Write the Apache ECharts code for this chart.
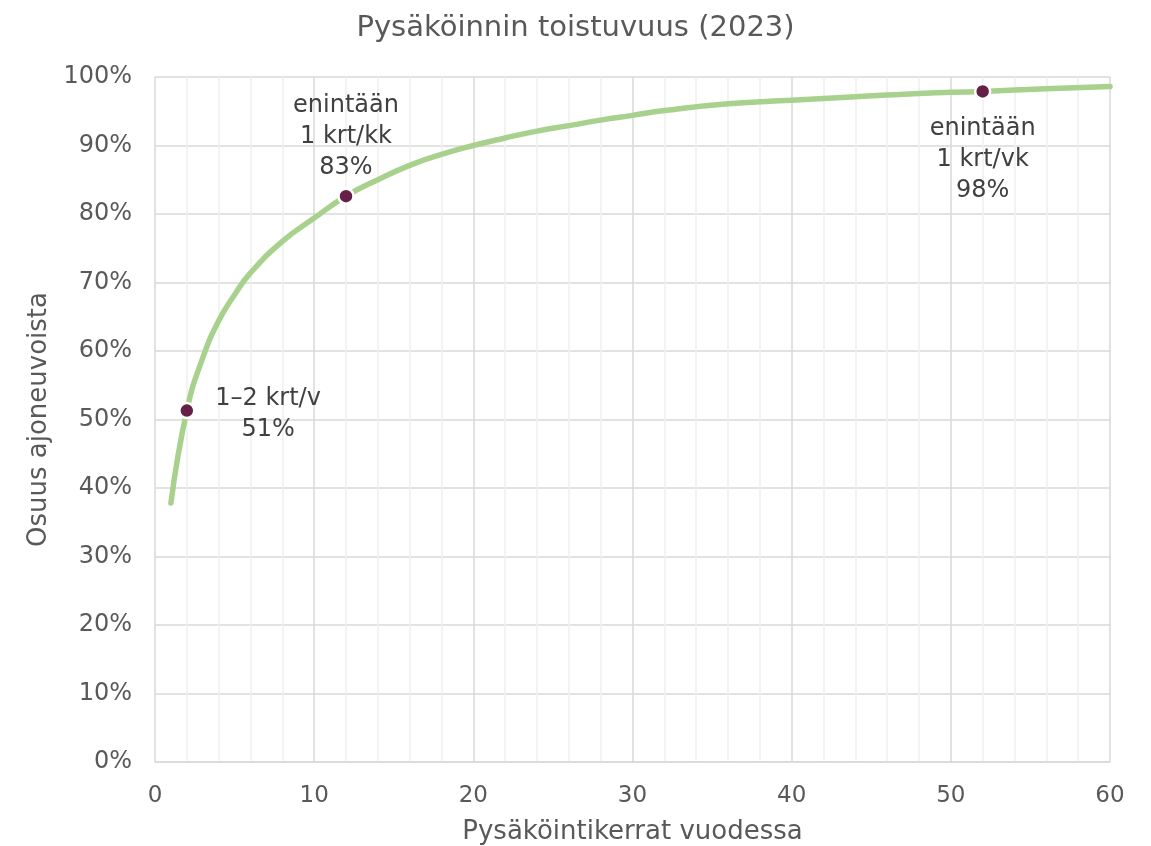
<!DOCTYPE html>
<html>
<head>
<meta charset="utf-8">
<script src="https://cdn.jsdelivr.net/npm/echarts@6/dist/echarts.min.js"></script>
<style>
  html, body { margin: 0; padding: 0; background: #fff; }
  #chart { width: 1151px; height: 846px; }
</style>
</head>
<body>
<div id="chart"></div>
<script>
// pysäköintikerrat vuodessa / osuus ajoneuvoista (%)
const xVals = [1, 2, 3, 4, 5, 6, 8, 10, 12, 14, 16, 18, 20, 22, 24, 26, 28, 30, 32, 36, 40, 44, 48, 52, 56, 60]
const shareVals = [37.8, 51.3, 59.0, 64.4, 68.2, 71.4, 76.0, 79.4, 82.6, 85.0, 87.1, 88.7, 90.0, 91.1, 92.1, 92.9, 93.7, 94.4, 95.1, 96.1, 96.6, 97.1, 97.6, 97.9, 98.3, 98.6]

// merkityt pisteet
const markX = [2, 12, 52]
const markY = [51.3, 82.6, 97.9]
const markText = ['1–2 krt/v\n51%', 'enintään\n1 krt/kk\n83%', 'enintään\n1 krt/vk\n98%']

const font = 'DejaVu Sans'
const labelPos = [
  { position: [90, 12], align: 'center', verticalAlign: 'middle' },
  { position: 'top', distance: 4 },
  { position: 'bottom', distance: 13 }
]

const lineData = xVals.map((x, i) => [x, shareVals[i]])
const markData = markX.map((x, i) => ({
  value: [x, markY[i]],
  label: Object.assign({ show: true, formatter: markText[i] }, labelPos[i])
}))

const myChart = echarts.init(document.getElementById('chart'))
const option = {
  animation: false,
  title: {
    text: 'Pysäköinnin toistuvuus (2023)',
    left: 'center',
    top: 9,
    textStyle: { color: '#595959', fontSize: 29, fontWeight: 'normal', fontFamily: font }
  },
  grid: { left: 155, right: 41, top: 77, bottom: 84, outerBoundsMode: 'none', containLabel: false },
  xAxis: {
    type: 'value',
    min: 0,
    max: 60,
    interval: 10,
    name: 'Pysäköintikerrat vuodessa',
    nameLocation: 'middle',
    nameGap: 57,
    nameTextStyle: { color: '#595959', fontSize: 26, fontFamily: font },
    axisLine: { show: true, lineStyle: { color: '#d9d9d9', width: 1.5 } },
    axisTick: { show: false },
    axisLabel: { color: '#595959', fontSize: 23, fontFamily: font, margin: 23 },
    splitLine: { show: true, lineStyle: { color: '#d9d9d9', width: 1.5 } },
    minorTick: { show: false, splitNumber: 5 },
    minorSplitLine: { show: true, lineStyle: { color: '#efefef', width: 1.5 } }
  },
  yAxis: {
    type: 'value',
    min: 0,
    max: 100,
    interval: 10,
    name: 'Osuus ajoneuvoista',
    nameLocation: 'middle',
    nameGap: 103,
    nameTextStyle: { color: '#595959', fontSize: 26, fontFamily: font },
    axisLine: { show: false },
    axisTick: { show: false },
    axisLabel: { color: '#595959', fontSize: 24, fontFamily: font, margin: 23, formatter: '{value}%' },
    splitLine: { show: true, lineStyle: { color: '#d9d9d9', width: 1.5 } }
  },
  series: [
    {
      type: 'line',
      data: lineData,
      smooth: 0.5,
      showSymbol: false,
      lineStyle: { color: '#a9d18e', width: 5.5, cap: 'round' },
      z: 2
    },
    {
      type: 'scatter',
      data: markData,
      symbolSize: 15,
      itemStyle: { color: '#652048', borderColor: '#ffffff', borderWidth: 2.5, opacity: 1 },
      label: { color: '#404040', fontSize: 24, lineHeight: 31, fontFamily: font },
      z: 3
    }
  ]
}
myChart.setOption(option)
</script>
</body>
</html>
